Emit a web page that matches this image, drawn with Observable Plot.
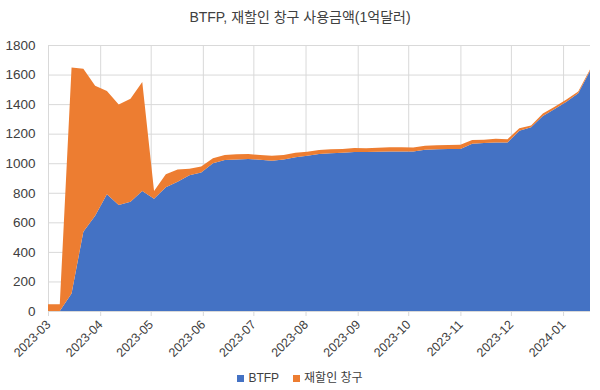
<!DOCTYPE html>
<html>
<head>
<meta charset="utf-8">
<script src="https://cdn.jsdelivr.net/npm/d3@7"></script>
<script src="https://cdn.jsdelivr.net/npm/@observablehq/plot@0.6"></script>
<style>
  html, body { margin: 0; padding: 0; background: #fff; }
  body { width: 600px; height: 390px; overflow: hidden; font-family: "Liberation Sans", "Noto Sans CJK KR", sans-serif; }
  #title { height: 34px; line-height: 34px; text-align: center; font-size: 14px; color: #404040; font-family: "Liberation Sans", "Noto Sans CJK KR", sans-serif; }
  #legend { height: 16px; line-height: 16px; display: flex; justify-content: center; align-items: center; font-size: 12px; color: #404040; gap: 14px; }
  #legend .item { display: flex; align-items: center; gap: 4px; }
  #legend .sw { width: 7px; height: 7px; display: inline-block; }
  svg { display: block; }
</style>
</head>
<body>
<div id="title">BTFP, 재할인 창구 사용금액(1억달러)</div>
<div id="chart"></div>
<div id="legend"></div>
<script>
const seriesNames = ["BTFP", "재할인 창구"];
const seriesColors = ["#4472C4", "#ED7D31"];

const dates = [
  "2023-03-01","2023-03-08","2023-03-15","2023-03-22","2023-03-29",
  "2023-04-05","2023-04-12","2023-04-19","2023-04-26",
  "2023-05-03","2023-05-10","2023-05-17","2023-05-24","2023-05-31",
  "2023-06-07","2023-06-14","2023-06-21","2023-06-28",
  "2023-07-05","2023-07-12","2023-07-19","2023-07-26",
  "2023-08-02","2023-08-09","2023-08-16","2023-08-23","2023-08-30",
  "2023-09-06","2023-09-13","2023-09-20","2023-09-27",
  "2023-10-04","2023-10-11","2023-10-18","2023-10-25",
  "2023-11-01","2023-11-08","2023-11-15","2023-11-22","2023-11-29",
  "2023-12-06","2023-12-13","2023-12-20","2023-12-27",
  "2024-01-03","2024-01-10","2024-01-17"
];

const btfp = [
  0, 0, 119, 537, 644,
  790, 718, 740, 812,
  760, 837, 875, 918, 937,
  999, 1021, 1026, 1028,
  1024, 1017, 1026, 1040,
  1051, 1062, 1067, 1071, 1076,
  1076, 1078, 1080, 1080,
  1080, 1091, 1094, 1096,
  1096, 1132, 1136, 1141, 1141,
  1220, 1243, 1319, 1367,
  1416, 1473, 1624
];

const discountWindow = [
  45, 45, 1529, 1103, 880,
  698, 680, 697, 737,
  52, 88, 83, 44, 41,
  34, 34, 34, 34,
  31, 34, 29, 31,
  27, 27, 27, 25, 27,
  25, 27, 28, 28,
  27, 27, 27, 27,
  29, 25, 22, 24, 22,
  16, 13, 18, 15,
  16, 13, 11
];

const yTicks = [0, 200, 400, 600, 800, 1000, 1200, 1400, 1600, 1800];
const monthTicks = ["2023-03-01","2023-04-01","2023-05-01","2023-06-01","2023-07-01","2023-08-01","2023-09-01","2023-10-01","2023-11-01","2023-12-01","2024-01-01"];

const data = dates.flatMap((d, i) => [
  {date: new Date(d), series: seriesNames[0], value: btfp[i]},
  {date: new Date(d), series: seriesNames[1], value: discountWindow[i]}
]);
const months = monthTicks.map(d => new Date(d));

const chart = Plot.plot({
  width: 600,
  height: 336,
  marginLeft: 48,
  marginRight: 10,
  marginTop: 11,
  marginBottom: 59,
  style: {fontFamily: "'Liberation Sans', 'Noto Sans CJK KR', sans-serif", background: "#fff"},
  x: {type: "utc", domain: [new Date(dates[0]), new Date(dates[dates.length - 1])]},
  y: {domain: [0, 1800]},
  color: {domain: seriesNames, range: seriesColors},
  marks: [
    Plot.gridY(yTicks, {stroke: "#d9d9d9", strokeOpacity: 1}),
    Plot.gridX(months, {stroke: "#d9d9d9", strokeOpacity: 1}),
    Plot.areaY(data, {x: "date", y: "value", z: "series", fill: "series", order: seriesNames}),
    Plot.ruleY([0], {stroke: "#d9d9d9"}),
    Plot.axisY(yTicks, {tickSize: 0, tickPadding: 13, fontSize: 13.5, fill: "#404040", label: null, tickFormat: d => String(d)}),
    Plot.axisX(months, {tickFormat: d3.utcFormat("%Y-%m"), tickRotate: -45, tickSize: 5, tickPadding: 6, stroke: "#d9d9d9", fontSize: 12.5, fill: "#404040", label: null})
  ]
});
document.getElementById("chart").appendChild(chart);

const legend = document.getElementById("legend");
seriesNames.forEach((name, i) => {
  const item = document.createElement("span");
  item.className = "item";
  const sw = document.createElement("span");
  sw.className = "sw";
  sw.style.background = seriesColors[i];
  const label = document.createElement("span");
  label.textContent = name;
  item.appendChild(sw);
  item.appendChild(label);
  legend.appendChild(item);
});
</script>
</body>
</html>
